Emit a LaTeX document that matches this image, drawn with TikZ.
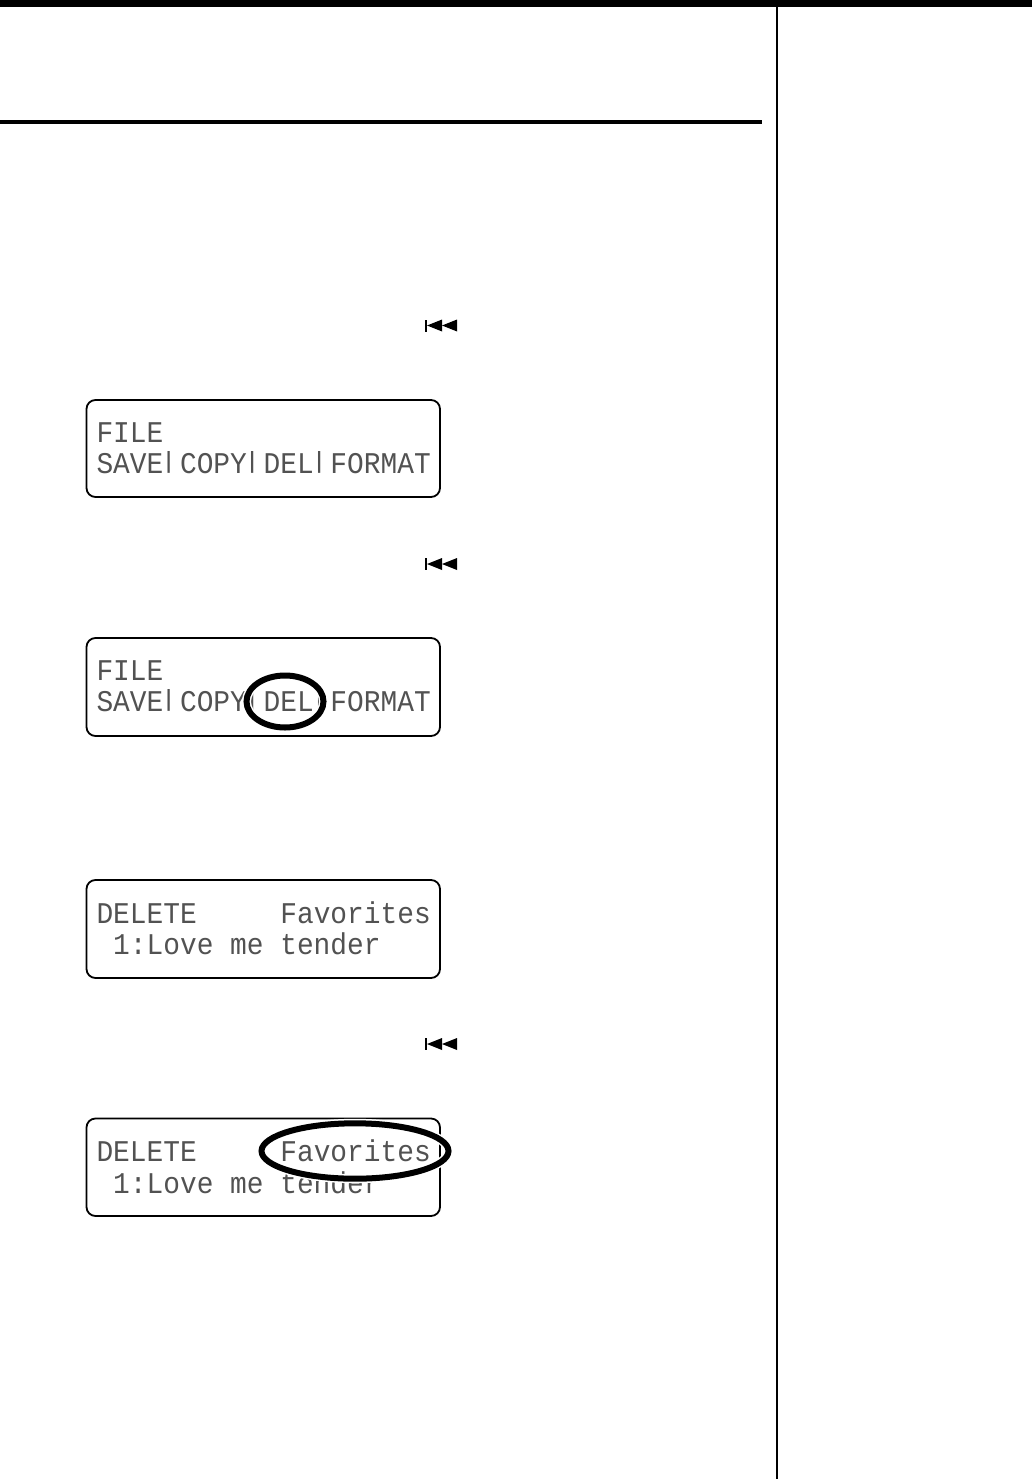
\documentclass[tikz,border=0pt]{standalone}
\usepackage{fontspec}
\setmonofont{Liberation Mono}
\newcommand{\lcdbar}{\makebox[16.71pt][c]{\hspace{-6pt}\raisebox{4.6pt}{\scalebox{1}[0.78]{|}}}}
\newcommand{\lcdline}[1]{\scalebox{1}[1.08]{#1}}
\tikzset{
  x=1pt,y=-1pt,
  lcdbox/.style={draw=black,line width=1.8pt,rounded corners=9pt},
  lcdtext/.style={anchor=base west,inner sep=0pt,outer sep=0pt,text=black!68,font=\fontsize{27.85}{30}\selectfont\ttfamily},
  halo/.style={draw=white,line width=9pt},
  ring/.style={draw=black,line width=6pt},
  rule/.style={fill=black,draw=none},
  rewind/.pic={
    \fill[black] (0,0) rectangle (2,12);
    \fill[black] (2,6) -- (17,0) -- (17,12) -- cycle;
    \fill[black] (17,6) -- (32,0) -- (32,12) -- cycle;
  }
}
\begin{document}
\begin{tikzpicture}
\useasboundingbox (0,0) rectangle (1032,1479);
\fill[white] (0,0) rectangle (1032,1479);
% page rules
\path[rule] (0,0) rectangle (1032,7.5);
\path[rule] (0,120) rectangle (762,124);
\path[rule] (776,0) rectangle (778.2,1479);
% rewind icons
\pic at (425,319.5) {rewind};
\pic at (425,558) {rewind};
\pic at (425,1038) {rewind};
% display 1
\draw[lcdbox] (86.5,400) rectangle (440,497);
\node[lcdtext] (a1) at (96.5,442) {\lcdline{FILE}};
\node[lcdtext] (a2) at (96.5,473) {\lcdline{SAVE\lcdbar COPY\lcdbar DEL\lcdbar FORMAT}};
% display 2
\draw[lcdbox] (86.5,638) rectangle (440,736);
\node[lcdtext] (b1) at (96.5,680) {\lcdline{FILE}};
\node[lcdtext] (b2) at (96.5,711) {\lcdline{SAVE\lcdbar COPY\lcdbar DEL\lcdbar FORMAT}};
\draw[halo] (285,701.5) ellipse [x radius=38.5,y radius=26];
\draw[ring] (285,701.5) ellipse [x radius=38.5,y radius=26];
% display 3
\draw[lcdbox] (86.5,880) rectangle (440,978);
\node[lcdtext] (c1) at (96.5,923) {\lcdline{DELETE\ \ \ \ \ Favorites}};
\node[lcdtext] (c2) at (96.5,954) {\lcdline{\ 1:Love me tender}};
% display 4
\draw[lcdbox] (86.5,1118.5) rectangle (440,1216);
\node[lcdtext] (d1) at (96.5,1161.5) {\lcdline{DELETE\ \ \ \ \ Favorites}};
\node[lcdtext] (d2) at (96.5,1193) {\lcdline{\ 1:Love me tender}};
\draw[halo] (355,1151) ellipse [x radius=93.5,y radius=27.7];
\draw[ring] (355,1151) ellipse [x radius=93.5,y radius=27.7];
\end{tikzpicture}
\end{document}
